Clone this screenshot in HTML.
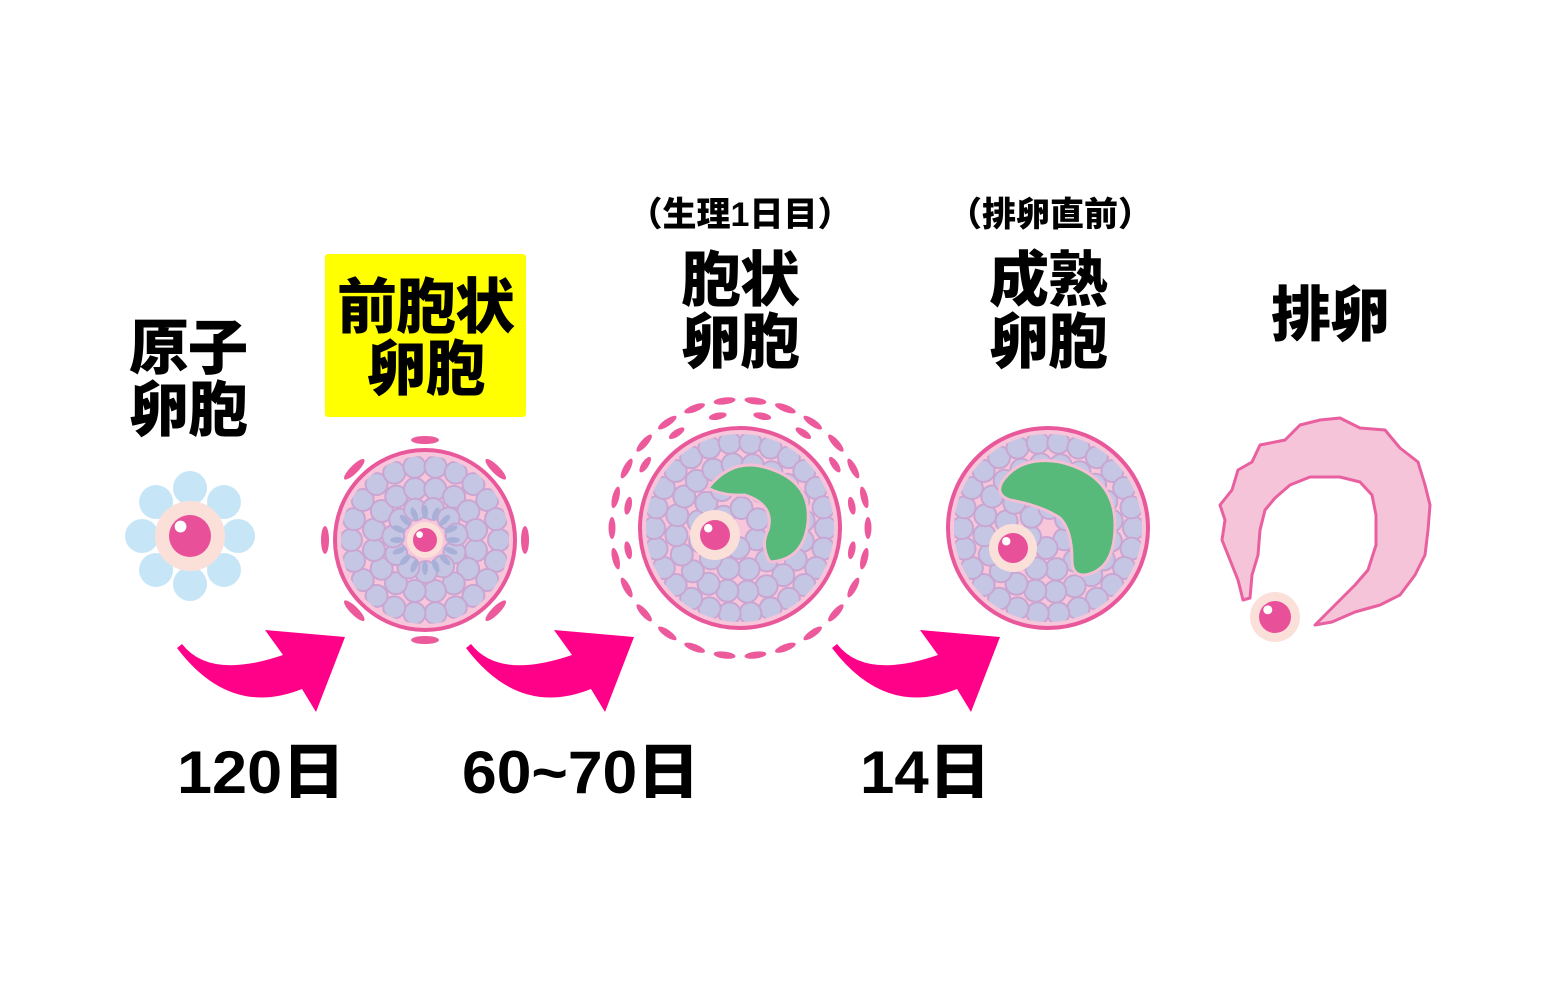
<!DOCTYPE html>
<html><head><meta charset="utf-8"><style>
body{margin:0;width:1546px;height:996px;background:#fff;position:relative;overflow:hidden;font-family:"Liberation Sans","Noto Sans CJK JP",sans-serif;font-weight:bold;color:#000}
.t{position:absolute;text-align:center;font-weight:900;white-space:nowrap}
.big{font-size:60px;line-height:62px;letter-spacing:-1px}
.sm{font-size:34px;line-height:36px}
.num{font-size:60px;line-height:60px;transform-origin:0 0}
svg{position:absolute;left:0;top:0}
</style></head><body>
<div style="position:absolute;left:325px;top:254px;width:201px;height:163px;background:#ffff00;border-radius:3px"></div>
<svg id="s" width="1546" height="996" viewBox="0 0 1546 996">
<defs>
<clipPath id="c2"><circle cx="425" cy="540" r="84"/></clipPath>
<clipPath id="c3"><circle cx="740" cy="528" r="94"/></clipPath>
<clipPath id="c4"><circle cx="1048" cy="528" r="94"/></clipPath>
</defs>
<g id="g"></g>
</svg>
<div class="t big" style="left:118px;top:318px;width:140px">原子<br>卵胞</div>
<div class="t big" style="left:325px;top:277px;width:201px">前胞状<br>卵胞</div>
<div class="t sm" style="left:620px;top:197px;width:240px">（生理1日目）</div>
<div class="t big" style="left:670px;top:250px;width:140px">胞状<br>卵胞</div>
<div class="t sm" style="left:930px;top:197px;width:240px">（排卵直前）</div>
<div class="t big" style="left:978px;top:250px;width:140px">成熟<br>卵胞</div>
<div class="t big" style="left:1260px;top:285px;width:140px">排卵</div>
<div class="t num" style="left:177px;top:743px;transform:scaleX(1.05)">120日</div>
<div class="t num" style="left:462px;top:743px;transform:scaleX(1.04)">60~70日</div>
<div class="t num" style="left:860px;top:743px;transform:scaleX(1.03)">14日</div>
<script>
var g=document.getElementById('g'),h='';
function C(x,y,r,f,s,sw,extra){h+='<circle cx="'+x+'" cy="'+y+'" r="'+r+'" fill="'+f+'"'+(s?' stroke="'+s+'" stroke-width="'+sw+'"':'')+(extra||'')+'/>';}
function E(x,y,rx,ry,a,f){h+='<ellipse cx="'+x+'" cy="'+y+'" rx="'+rx+'" ry="'+ry+'" fill="'+(f||'#ec5a9c')+'" transform="rotate('+a+' '+x+' '+y+')"/>';}
function egg(x,y,R,r){C(x,y,R,'#fbe0da');C(x,y,r,'#e8509a');C(x-r*0.45,y-r*0.45,r*0.28,'#fff');}
for(var i=0;i<8;i++){var a=i*Math.PI/4-Math.PI/2;C(190+48*Math.cos(a),536+48*Math.sin(a),17,'#c6e6f8');}
egg(190,536,35,21);
function arrow(dx){h+='<path transform="translate('+dx+',0)" fill="#ff0088" d="M177,648 L182,644 Q210,680 283,655 L265,630 L345,637 L316,712 L302,689 Q230,718 177,648 Z"/>';}
arrow(0);arrow(289);arrow(655);
function foll(cx,cy,R,clip,rings){
 C(cx,cy,R+6,'#f7c6da','#e8589a',4);
 h+='<g clip-path="url(#'+clip+')">';
 for(var k=0;k<rings.length;k++){var rr=rings[k][0],n=rings[k][1];for(var i=0;i<n;i++){var a=i*2*Math.PI/n+k*0.2;C(cx+rr*Math.cos(a),cy+rr*Math.sin(a),11,'#c5c6e4','#c9a6d2',2);}}
 h+='</g>';
}
foll(425,540,84,'c2',[[74,22],[52,16],[32,11]]);
for(var i=0;i<16;i++){var a=i*2*Math.PI/16;E(425+28*Math.cos(a),540+28*Math.sin(a),7,3,a*180/Math.PI,'#a9b0d8');}
egg(425,540,18,12);
for(var i=0;i<8;i++){var a=i*Math.PI/4-Math.PI/2;E(425+100*Math.cos(a),540+100*Math.sin(a),14,4,a*180/Math.PI+90);}
for(var i=0;i<26;i++){var a=i*2*Math.PI/26;E(740+128*Math.cos(a),528+128*Math.sin(a),11,3.5,a*180/Math.PI+90);}
for(var i=0;i<16;i++){var a=(i+0.5)*2*Math.PI/16;if(Math.sin(a)<0.5)E(740+114*Math.cos(a),528+114*Math.sin(a),9,3.5,a*180/Math.PI+90);}
foll(740,528,94,'c3',[[86,26],[64,20],[42,13],[20,6]]);
h+='<path d="M708,488 Q730,460 760,466 Q812,478 808,522 Q804,560 770,562 Q760,546 768,530 Q775,505 745,495 Q722,496 708,488 Z" fill="#57b97a" stroke="#f4bfd6" stroke-width="3"/>';
egg(715,535,25,15);
foll(1048,528,94,'c4',[[86,26],[64,20],[42,13],[20,6]]);
h+='<path d="M1002,482 Q1020,455 1060,462 Q1115,475 1115,525 Q1115,570 1085,575 Q1072,576 1072,560 Q1072,530 1060,518 Q1040,505 1010,500 Q995,495 1002,482 Z" fill="#57b97a" stroke="#f4bfd6" stroke-width="3"/>';
egg(1013,548,24,15);
h+='<path fill="#f6c4d8" stroke="#e8609f" stroke-width="3" stroke-linejoin="round" d="M1243,600 L1238,580 L1230,560 L1222,540 L1225,520 L1220,505 L1232,490 L1238,470 L1252,462 L1260,445 L1285,440 L1300,425 L1320,420 L1340,418 L1360,428 L1385,430 L1400,448 L1418,462 L1425,485 L1430,505 L1428,530 L1425,555 L1415,575 L1400,595 L1380,605 L1355,612 L1332,622 L1315,625 L1335,605 L1355,585 L1368,570 L1376,545 L1376,515 L1372,495 L1360,482 L1340,477 L1310,477 L1290,485 L1275,498 L1265,510 L1260,530 L1258,555 L1252,575 L1250,598 Z"/>';
egg(1275,617,25,16);
g.innerHTML=h;
</script>
</body></html>
